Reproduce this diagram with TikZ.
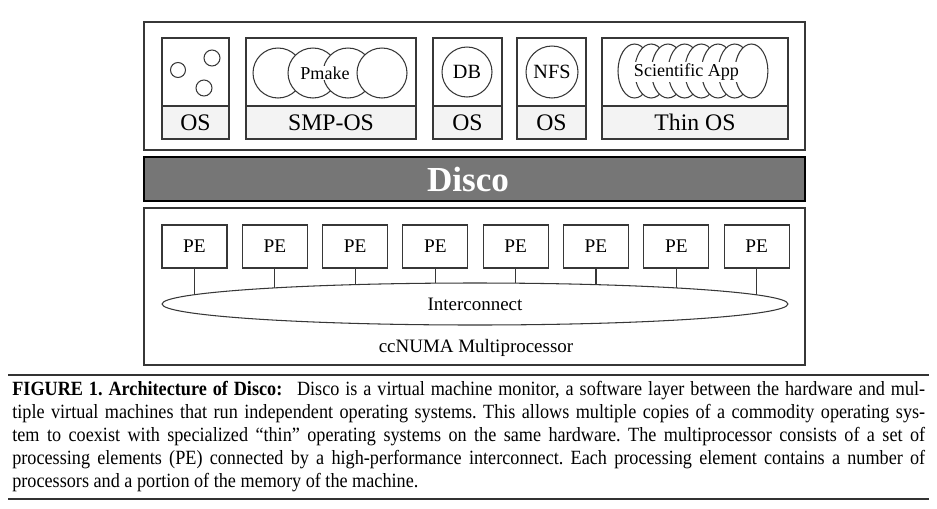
\documentclass[tikz,border=0pt]{standalone}
\usepackage{fontspec}
\setmainfont{Liberation Serif}
\newfontfamily\capfont{Liberation Serif}[FakeStretch=0.9]
\usetikzlibrary{shapes.geometric}
\definecolor{framecolor}{RGB}{55,55,55}
\definecolor{discocolor}{RGB}{118,118,118}
\definecolor{oscolor}{RGB}{243,243,243}

\tikzset{
    frame/.style={draw=framecolor, line width=0.75pt},
    appbox/.style={draw=framecolor, line width=0.6pt},
    oslabel/.style={inner sep=0pt, font=\fontsize{13.5}{15}\selectfont},
    applabel/.style={inner sep=0pt, font=\fontsize{10.3}{12}\selectfont},
    procbox/.style={draw=framecolor, line width=0.6pt, inner sep=0pt,
        minimum width=1.3cm, minimum height=0.86cm, font=\fontsize{11}{12}\selectfont},
    capline/.style={anchor=base west, inner sep=0pt, font=\capfont\fontsize{11.5}{13}\selectfont\frenchspacing}
}

\begin{document}
\begin{tikzpicture}[x=0.02cm, y=-0.02cm]
    \useasboundingbox (0,0) rectangle (937,508);

    % Outer frames
    \draw[frame] (144,22) rectangle (805,150);
    \draw[frame, draw=black, fill=discocolor] (144,157) rectangle (805,201);
    \draw[frame] (144,208) rectangle (805,365);
    \node[text=white, inner sep=0pt, font=\fontsize{20}{22}\selectfont\bfseries] (disco) at (468,179) {Disco};

    % Virtual machines with their OS
    \foreach \l/\r/\lab/\n in {162/229/OS/a, 246/416/SMP-OS/b, 433/502/OS/c, 517/586/OS/d, 602/788/Thin OS/e} {
        \fill[oscolor] (\l,106) rectangle (\r,139);
        \draw[appbox] (\l,38) rectangle (\r,139);
        \draw[appbox] (\l,106) -- (\r,106);
        \node[oslabel] (os\n) at ({(\l+\r)/2},122.5) {\lab};
    }

    % Small processes
    \draw[appbox, fill=white] (178,70) circle (0.15cm);
    \draw[appbox, fill=white] (212,58) circle (0.16cm);
    \draw[appbox, fill=white] (204,88) circle (0.16cm);

    % Pmake
    \foreach \x in {278,313,348,382}
        \draw[appbox, fill=white] (\x,73) circle (0.5cm);
    \node[applabel, fill=white, inner sep=0.5pt] (pmake) at (325,73) {Pmake};

    % DB and NFS
    \node[appbox, applabel, circle, minimum size=1cm, font=\fontsize{11.5}{12}\selectfont] (db) at (467,72) {DB};
    \node[appbox, applabel, circle, minimum size=1.04cm, font=\fontsize{11.5}{12}\selectfont] (nfs) at (552,72) {NFS};

    % Scientific App
    \foreach \i in {0,...,7}
        \draw[appbox, fill=white] ({634.5+16.7*\i},71) ellipse [x radius=0.33cm, y radius=0.54cm];
    \node[applabel, fill=white, inner sep=1pt] (sci) at (686.5,72) {Scientific App};

    % Processing elements and interconnect
    \coordinate (net) at (475,304);
    \foreach \i in {0,...,7} {
        \node[procbox] (pe\i) at ({194.5+80.3*\i},246.5) {PE};
        \draw[appbox] (pe\i.south) -- (pe\i.south |- net);
    }
    \node[appbox, applabel, ellipse, fill=white, minimum width=12.52cm, minimum height=0.84cm, font=\fontsize{10.8}{12}\selectfont] (ic) at (net) {Interconnect};
    \node[applabel, font=\fontsize{10.8}{12}\selectfont] (numa) at (476,348) {ccNUMA Multiprocessor};

    % Caption
    \draw[line width=0.6pt, black!80] (8,375) -- (929,375);
    \node[capline] (cap1) at (12,395) {\makebox[18.26cm][s]{\textbf{FIGURE 1. Architecture of Disco:}\hspace{5pt} Disco is a virtual machine monitor, a software layer between the hardware and mul-}};
    \node[capline] (cap2) at (12,418.1) {\makebox[18.26cm][s]{tiple virtual machines that run independent operating systems. This allows multiple copies of a commodity operating sys-}};
    \node[capline] (cap3) at (12,441.2) {\makebox[18.26cm][s]{tem to coexist with specialized “thin” operating systems on the same hardware. The multiprocessor consists of a set of}};
    \node[capline] (cap4) at (12,464.3) {\makebox[18.26cm][s]{processing elements (PE) connected by a high-performance interconnect. Each processing element contains a number of}};
    \node[capline] (cap5) at (12,487.4) {processors and a portion of the memory of the machine.};
    \draw[line width=0.9pt, black!80] (8,499) -- (929,499);
\end{tikzpicture}
\end{document}
